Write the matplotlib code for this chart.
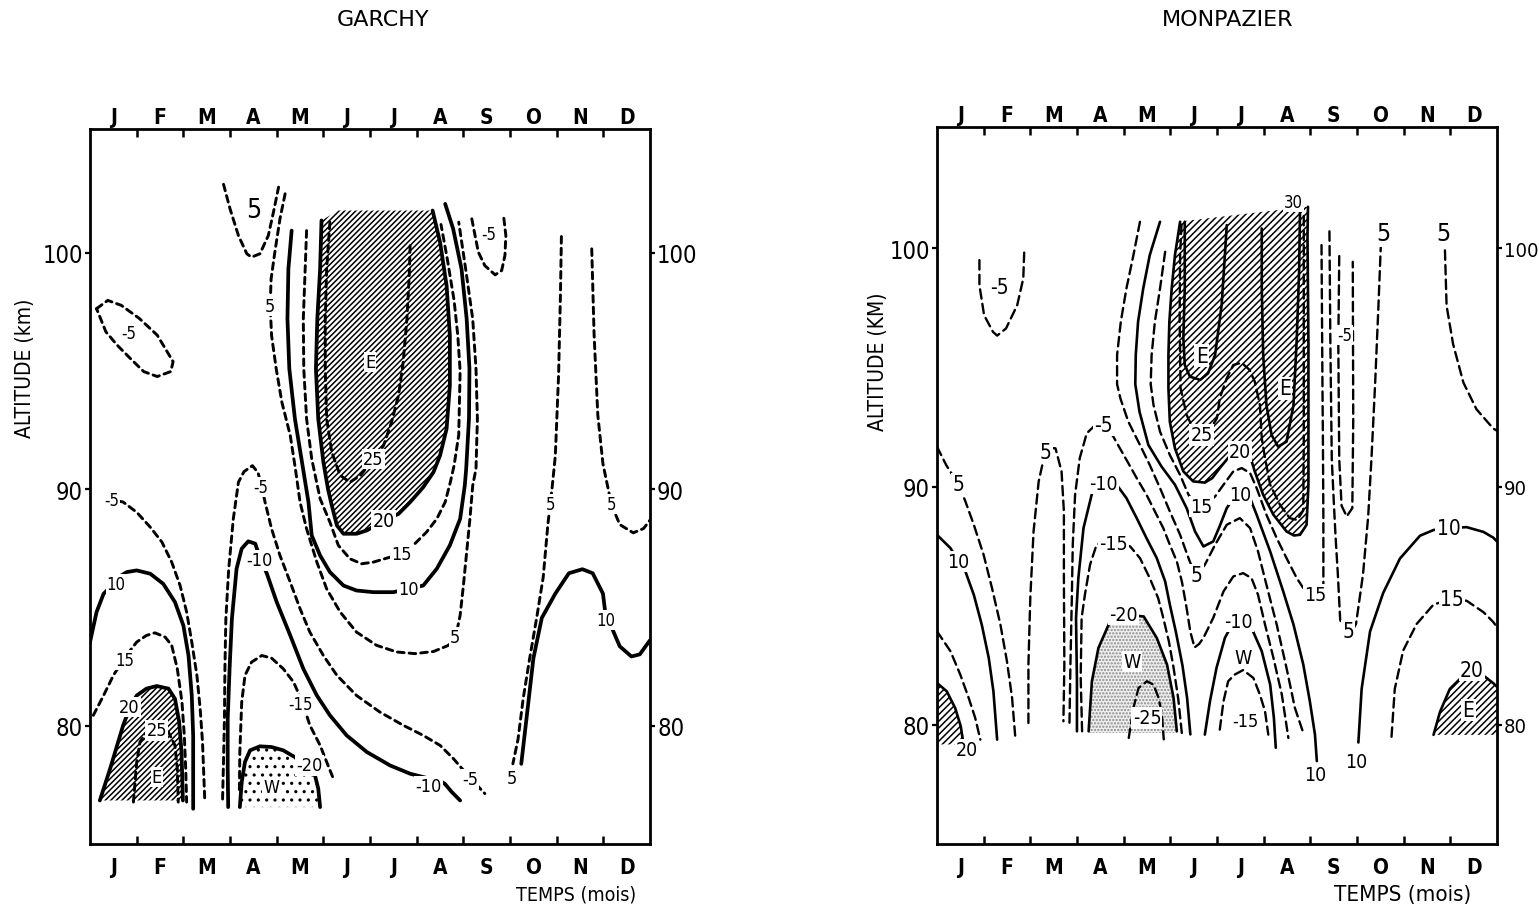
import matplotlib
matplotlib.use("Agg")
import matplotlib.pyplot as plt
import numpy as np

plt.rcParams['font.family'] = ['DejaVu Sans']
plt.rcParams['hatch.linewidth'] = 1.1

months = ['J', 'F', 'M', 'A', 'M', 'J', 'J', 'A', 'S', 'O', 'N', 'D']
alt_ticks = [80, 90, 100]

# ======================= GARCHY : isolines (month, altitude km) =======================
g_m5_oval_x = [0.14, 0.38, 0.67, 1.06, 1.44, 1.78, 1.73, 1.44, 1.15, 0.86, 0.58, 0.34, 0.14]
g_m5_oval_y = [97.64, 97.99, 97.78, 97.22, 96.52, 95.40, 94.98, 94.77, 94.98, 95.54, 96.10, 96.66, 97.64]
g_m5_left_x = [0.62, 0.71, 1.0, 1.29, 1.54, 1.75, 1.93, 2.07, 2.18, 2.29, 2.36, 2.41, 2.46]
g_m5_left_y = [89.5, 89.46, 89.03, 88.4, 87.77, 86.92, 85.93, 84.81, 83.54, 82.13, 80.72, 79.31, 76.77]
g_10_left_x = [0.0, 0.14, 0.29, 0.45, 0.62, 0.79, 1.0, 1.29, 1.57, 1.82, 2.0, 2.11, 2.18, 2.21, 2.21]
g_10_left_y = [83.54, 84.81, 85.58, 85.9, 86.3, 86.5, 86.57, 86.43, 86.0, 85.23, 84.24, 82.97, 81.28, 79.59, 76.49]
g_15_left_x = [0.07, 0.29, 0.5, 0.75, 1.0, 1.21, 1.39, 1.61, 1.75, 1.87, 1.97, 2.02, 2.05, 2.07]
g_15_left_y = [80.44, 81.28, 82.13, 82.9, 83.54, 83.82, 83.93, 83.75, 83.4, 82.41, 81.0, 79.59, 78.18, 76.77]
g_20_left_x = [0.21, 0.43, 0.71, 0.84, 1.0, 1.21, 1.43, 1.68, 1.82, 1.91, 1.96, 1.99]
g_20_left_y = [76.84, 78.18, 80.02, 80.7, 81.28, 81.57, 81.68, 81.57, 81.14, 80.16, 78.89, 76.84]
g_25_left_x = [0.93, 1.0, 1.07, 1.2, 1.43, 1.68, 1.82, 1.87, 1.89]
g_25_left_y = [76.77, 78.46, 79.31, 79.7, 79.85, 79.73, 79.17, 78.18, 76.77]
g_m5_A_x = [2.84, 2.86, 2.88, 2.89, 2.91, 2.97, 3.07, 3.18, 3.3, 3.48, 3.6, 3.68, 3.75, 3.89, 4.07, 4.29,
            4.5, 4.71, 5.0, 5.29, 5.71, 6.21, 6.71, 7.14, 7.5, 7.79, 8.14, 8.36, 8.46]
g_m5_A_y = [76.9, 78.5, 80.3, 82.4, 84.5, 86.6, 88.75, 90.3, 90.75, 91.0, 90.7, 90.1, 89.46, 88.33, 87.2,
            86.07, 84.95, 83.96, 82.97, 82.13, 81.28, 80.58, 80.02, 79.59, 79.17, 78.6, 77.8, 77.34, 77.13]
g_m10_A_x = [2.96, 2.95, 2.95, 2.99, 3.04, 3.14, 3.25, 3.39, 3.54, 3.64, 3.79, 4.0, 4.29, 4.57, 4.86, 5.14,
             5.5, 5.93, 6.43, 6.86, 7.2, 7.45, 7.6, 7.75, 7.93]
g_m10_A_y = [76.56, 78.18, 80.3, 82.41, 84.53, 86.64, 87.49, 87.8, 87.7, 87.1, 86.43, 85.23, 83.82, 82.41,
             81.28, 80.44, 79.59, 78.89, 78.32, 77.97, 77.8, 77.72, 77.55, 77.2, 76.84]
g_m15_A_x = [3.2, 3.21, 3.25, 3.32, 3.46, 3.68, 3.89, 4.14, 4.36, 4.55, 4.71, 4.93, 5.07, 5.2]
g_m15_A_y = [77.3, 78.89, 81.0, 82.13, 82.69, 82.97, 82.86, 82.41, 81.85, 81.0, 80.02, 79.17, 78.47, 77.83]
g_m20_A_x = [3.21, 3.25, 3.32, 3.43, 3.64, 3.89, 4.14, 4.32, 4.55, 4.72, 4.82, 4.89, 4.93]
g_m20_A_y = [76.56, 77.62, 78.47, 78.96, 79.13, 79.1, 78.96, 78.75, 78.5, 78.25, 77.9, 77.34, 76.56]
g_5_U_x = [2.86, 3.0, 3.18, 3.36, 3.46, 3.64, 3.82, 3.93, 4.04]
g_5_U_y = [102.9, 101.86, 100.73, 99.96, 99.82, 99.96, 100.73, 101.72, 102.78]
g_5_jet_x = [4.18, 4.07, 3.96, 3.88, 3.86, 3.89, 3.99, 4.11, 4.29, 4.4, 4.5, 4.64, 4.86, 5.07, 5.36, 5.71,
             6.14, 6.57, 6.96, 7.36, 7.68, 7.85, 7.93, 8.0, 8.07, 8.14, 8.2, 8.27, 8.3, 8.27, 8.2, 8.05, 7.9]
g_5_jet_y = [102.5, 101.44, 100.03, 98.9, 97.77, 96.5, 95.09, 93.69, 92.28, 90.87, 89.46, 88.33, 86.92,
             85.79, 84.81, 83.96, 83.4, 83.12, 83.05, 83.14, 83.4, 83.9, 84.67, 85.93, 87.34, 88.75, 90.16,
             90.87, 92.98, 95.1, 97.2, 99.3, 101.3]
g_10_jet_x = [4.32, 4.25, 4.23, 4.27, 4.39, 4.53, 4.68, 4.75, 4.93, 5.14, 5.43, 5.71, 6.07, 6.5, 6.82, 7.14,
              7.43, 7.71, 7.93, 8.03, 8.06, 8.12, 8.13, 8.07, 7.96, 7.78, 7.61]
g_10_jet_y = [100.94, 99.32, 97.21, 95.1, 92.98, 91.29, 89.46, 88.05, 87.2, 86.5, 85.93, 85.72, 85.65, 85.65,
              85.79, 85.93, 86.64, 87.63, 88.75, 90.16, 90.87, 93.0, 95.1, 97.21, 99.32, 101.02, 102.07]
g_15_jet_x = [4.64, 4.61, 4.57, 4.58, 4.64, 4.75, 4.93, 5.14, 5.32, 5.57, 5.82, 6.07, 6.36, 6.68, 6.96, 7.21,
              7.43, 7.61, 7.72, 7.8, 7.9, 7.93, 7.88, 7.8, 7.65, 7.52]
g_15_jet_y = [100.94, 99.32, 97.21, 95.1, 92.98, 91.29, 89.6, 88.61, 87.63, 87.06, 86.85, 86.92, 87.09, 87.27,
              87.7, 88.19, 88.75, 89.46, 90.3, 91.0, 92.3, 95.0, 96.5, 98.0, 99.8, 101.2]
g_20_jet_x = [4.96, 4.93, 4.87, 4.84, 4.89, 5.0, 5.1, 5.18, 5.29, 5.43, 5.71, 5.93, 6.29, 6.61, 6.86, 7.14,
              7.36, 7.5, 7.64, 7.71, 7.71, 7.64, 7.5, 7.34]
g_20_jet_y = [101.37, 99.32, 97.21, 95.1, 92.98, 91.15, 90.0, 89.32, 88.47, 88.12, 88.12, 88.26, 88.68, 88.96,
              89.46, 90.09, 90.73, 91.43, 92.56, 94.39, 96.5, 98.62, 100.45, 101.79]
g_jet_top_x = [7.34, 5.32]
g_jet_top_y = [101.79, 101.79]
g_25_jet_x = [5.14, 5.07, 5.04, 5.04, 5.07, 5.18, 5.36, 5.57, 5.8, 6.07, 6.29, 6.46, 6.61, 6.71, 6.79, 6.84, 6.86]
g_25_jet_y = [101.3, 99.32, 97.21, 95.1, 92.98, 91.57, 90.59, 90.3, 90.6, 91.29, 91.85, 92.84, 93.97, 95.38,
              97.21, 99.04, 100.45]
g_m5_Ur_x = [8.18, 8.25, 8.32, 8.46, 8.68, 8.82, 8.89, 8.91, 8.86]
g_m5_Ur_y = [101.44, 100.73, 100.03, 99.46, 99.07, 99.25, 99.89, 100.73, 101.58]
g_5_O_x = [10.1, 10.08, 10.04, 9.97, 9.9, 9.86, 9.81, 9.71, 9.57, 9.42, 9.28, 9.17, 9.06]
g_5_O_y = [100.69, 98.28, 94.85, 91.42, 90.05, 89.37, 88.51, 86.28, 84.56, 82.85, 81.13, 79.42, 78.39]
g_5_ND_x = [10.75, 10.8, 10.88, 10.99, 11.17, 11.35, 11.64, 11.86, 12.0]
g_5_ND_y = [100.17, 96.57, 93.14, 91.08, 89.37, 88.51, 88.16, 88.34, 88.7]
g_10_OND_x = [9.24, 9.35, 9.5, 9.68, 9.97, 10.26, 10.55, 10.77, 10.99, 11.06, 11.2, 11.35, 11.6, 11.78, 12.0]
g_10_OND_y = [78.39, 80.27, 82.85, 84.56, 85.59, 86.45, 86.62, 86.45, 85.59, 84.48, 84.05, 83.36, 82.93, 83.02, 83.62]

g_labels = [  # (x, y, text, size)
    (0.82, 96.6, '-5', 12), (3.5, 101.8, '5', 19), (3.86, 97.77, '5', 13), (8.54, 100.8, '-5', 12),
    (6.0, 95.4, 'E', 13), (6.07, 91.29, '25', 13), (6.29, 88.68, '20', 14), (6.68, 87.27, '15', 13),
    (6.82, 85.79, '10', 13), (7.82, 83.75, '5', 13), (0.46, 89.53, '-5', 12), (0.56, 86.0, '10', 12),
    (0.75, 82.76, '15', 12), (0.84, 80.79, '20', 13), (1.43, 79.8, '25', 13), (1.43, 77.83, 'E', 13),
    (3.65, 90.1, '-5', 12), (3.64, 86.99, '-10', 13), (4.5, 80.9, '-15', 12), (4.7, 78.32, '-20', 13),
    (3.89, 77.41, 'W', 13), (7.25, 77.45, '-10', 13), (8.14, 77.76, '-5', 13), (9.03, 77.79, '5', 13),
    (9.86, 89.37, '5', 12), (11.17, 89.37, '5', 12), (11.06, 84.48, '10', 12),
]

# ======================= MONPAZIER : isolines (month, altitude km) =======================
m_m5_U_x = [0.91, 0.91, 1.01, 1.2, 1.29, 1.48, 1.72, 1.85, 1.87]
m_m5_U_y = [99.51, 98.46, 97.2, 96.5, 96.34, 96.64, 97.62, 98.74, 99.86]
m_5_J_x = [0.0, 0.2, 0.46, 0.61, 0.79, 1.0, 1.18, 1.36, 1.5, 1.61, 1.68]
m_5_J_y = [91.68, 90.9, 90.1, 89.38, 88.4, 87.14, 85.74, 84.21, 82.67, 81.13, 79.45]
m_10_J_x = [0.0, 0.29, 0.46, 0.61, 0.79, 0.96, 1.11, 1.21, 1.29]
m_10_J_y = [87.98, 87.42, 86.86, 86.44, 85.46, 84.21, 82.81, 81.41, 79.38]
m_15_J_x = [0.0, 0.29, 0.5, 0.68, 0.82, 0.93]
m_15_J_y = [83.93, 83.09, 82.11, 81.13, 80.29, 79.38]
m_20_J_x = [0.0, 0.21, 0.39, 0.51, 0.57]
m_20_J_y = [81.76, 81.41, 80.71, 79.94, 79.18]
m_5_FM_x = [1.96, 1.96, 2.0, 2.07, 2.18, 2.29, 2.4, 2.54, 2.67, 2.72, 2.72, 2.73, 2.71]
m_5_FM_y = [80.08, 82.53, 85.32, 88.12, 90.22, 91.2, 91.62, 91.61, 90.64, 88.96, 86.16, 82.53, 80.15]
m_m5_A_x = [2.84, 2.86, 2.89, 2.91, 2.96, 3.06, 3.21, 3.4, 3.56, 3.78, 3.92, 4.1, 4.28, 4.49, 4.67, 4.85,
            4.99, 5.14, 5.25, 5.35, 5.43, 5.52, 5.62, 5.71, 5.92, 6.14, 6.35, 6.56, 6.74, 6.88, 7.03, 7.21,
            7.39, 7.53]
m_m5_A_y = [80.09, 82.53, 85.32, 87.56, 89.66, 91.2, 92.24, 92.6, 92.65, 92.1, 91.61, 90.99, 90.36, 89.66,
            88.96, 88.26, 87.56, 86.86, 86.0, 84.9, 83.9, 83.25, 83.4, 83.65, 84.49, 85.6, 86.23, 86.37, 86.16,
            85.46, 84.21, 82.81, 81.27, 79.45]
m_m10_A_x = [3.0, 3.0, 2.98, 3.03, 3.14, 3.35, 3.56, 3.85, 4.06, 4.28, 4.49, 4.71, 4.89, 4.99, 5.12, 5.26,
             5.36, 5.43]
m_m10_A_y = [79.73, 81.83, 84.49, 86.16, 88.26, 89.94, 90.2, 90.08, 89.52, 88.68, 87.84, 87.0, 86.02, 85.05,
             83.9, 82.5, 81.13, 79.6]
m_m15_A_x = [3.11, 3.08, 3.1, 3.17, 3.28, 3.42, 3.6, 3.78, 3.95, 4.14, 4.35, 4.56, 4.74, 4.85, 4.97, 5.07,
             5.17, 5.25]
m_m15_A_y = [79.73, 82.0, 84.49, 85.46, 86.72, 87.56, 87.7, 87.65, 87.6, 87.49, 87.0, 86.16, 85.32, 84.49,
             83.5, 82.4, 81.1, 79.6]
m_m20_A_x = [3.25, 3.32, 3.46, 3.71, 4.0, 4.43, 4.71, 4.93, 5.07, 5.14]
m_m20_A_y = [79.73, 81.83, 83.23, 84.35, 84.63, 84.55, 83.65, 82.53, 81.13, 79.73]
m_m25_A_x = [4.11, 4.21, 4.32, 4.5, 4.64, 4.75, 4.82, 4.86]
m_m25_A_y = [79.45, 80.71, 81.55, 81.83, 81.69, 81.13, 80.43, 79.39]
m_5_jet_x = [4.35, 4.21, 4.06, 3.94, 3.86, 3.86, 3.93, 4.1, 4.35, 4.56, 4.78, 4.99, 5.21, 5.39, 5.5, 5.56,
             5.74, 5.96, 6.21, 6.49, 6.71, 6.88, 7.06, 7.28, 7.49, 7.67, 7.85]
m_5_jet_y = [101.12, 99.72, 98.32, 96.93, 95.53, 94.3, 93.71, 92.73, 91.75, 90.91, 89.94, 88.96, 87.98,
             87.0, 86.45, 86.3, 86.72, 87.56, 88.4, 88.68, 88.26, 87.28, 85.88, 84.21, 82.39, 80.71, 79.66]
m_10_jet_x = [4.78, 4.56, 4.42, 4.31, 4.26, 4.25, 4.34, 4.53, 4.81, 5.1, 5.35, 5.53, 5.71, 5.92, 6.05, 6.21,
              6.35, 6.49, 6.71, 6.85, 7.14, 7.42, 7.64, 7.85, 7.99, 8.1, 8.14]
m_10_jet_y = [101.12, 99.72, 98.32, 96.93, 95.53, 94.3, 93.15, 91.75, 90.85, 90.08, 89.1, 88.12, 87.49,
              87.7, 88.3, 89.1, 89.5, 89.66, 89.52, 88.82, 87.28, 85.6, 84.21, 82.53, 80.99, 79.59, 78.48]
m_15_jet_x = [4.89, 4.78, 4.67, 4.6, 4.58, 4.64, 4.78, 4.99, 5.21, 5.39, 5.55, 5.67, 5.8, 5.96, 6.14, 6.35,
              6.53, 6.71, 6.85, 7.06, 7.28, 7.49, 7.71, 7.85, 8.1, 8.28, 8.28, 8.27, 8.26, 8.24]
m_15_jet_y = [99.86, 98.32, 96.93, 95.53, 94.3, 93.43, 92.31, 91.33, 90.49, 89.66, 89.25, 89.17, 89.3,
              89.59, 90.08, 90.64, 90.78, 90.57, 89.94, 88.82, 87.84, 87.0, 86.16, 85.74, 85.46, 85.88, 88.68,
              92.0, 94.37, 100.16]
m_20_jet_x = [5.21, 5.1, 5.03, 4.98, 4.96, 4.96, 4.99, 5.1, 5.28, 5.49, 5.74, 5.9, 6.06, 6.35, 6.5, 6.67,
              6.81, 6.99, 7.21, 7.49, 7.65, 7.78, 7.92, 7.96, 7.96, 7.94, 7.95]
m_20_jet_y = [101.12, 99.72, 98.32, 96.93, 95.53, 94.13, 92.73, 91.61, 90.64, 90.22, 90.17, 90.36, 90.78,
              91.47, 91.6, 91.54, 90.64, 89.66, 88.82, 88.12, 87.95, 87.98, 88.4, 90.08, 95.98, 100.5, 101.75]
m_jet_top_x = [7.95, 7.6, 5.3]
m_jet_top_y = [101.75, 101.68, 101.15]
m_25_jet_x = [5.24, 5.21, 5.2, 5.22, 5.35, 5.5, 5.67, 5.85, 6.0, 6.06, 6.21, 6.35, 6.53, 6.7, 6.81, 6.92,
              6.96, 7.03, 7.14, 7.35, 7.56, 7.72, 7.85, 7.86, 7.86, 7.86]
m_25_jet_y = [101.0, 99.72, 96.93, 94.13, 93.01, 92.4, 92.17, 92.4, 92.87, 93.71, 94.55, 95.11, 95.2, 94.9,
              94.41, 93.43, 92.03, 91.2, 90.08, 89.24, 88.68, 88.6, 89.0, 92.0, 98.0, 101.5]
m_30_Ua_x = [5.31, 5.31, 5.28, 5.31, 5.42, 5.64, 5.81, 5.96, 6.1, 6.17, 6.21]
m_30_Ua_y = [101.12, 98.32, 96.23, 95.11, 94.62, 94.48, 94.76, 95.53, 97.62, 99.72, 100.98]
m_30_Ub_x = [6.96, 6.96, 6.99, 7.06, 7.17, 7.31, 7.49, 7.64, 7.71, 7.76, 7.78, 7.8]
m_30_Ub_y = [100.84, 98.32, 95.53, 93.43, 92.17, 91.68, 91.89, 93.43, 96.23, 99.02, 101.68, 102.1]
m_m10_J_x = [5.74, 5.85, 5.99, 6.17, 6.32, 6.46, 6.6, 6.74, 6.96, 7.14, 7.22, 7.26]
m_m10_J_y = [79.59, 80.99, 82.39, 83.65, 84.2, 84.35, 84.3, 84.07, 83.09, 81.69, 80.29, 79.04]
m_m15_J_x = [6.06, 6.14, 6.24, 6.38, 6.56, 6.78, 6.92, 7.03, 7.1]
m_m15_J_y = [79.8, 80.99, 81.83, 82.11, 82.3, 81.97, 81.27, 80.57, 79.59]
m_m5_S_x = [8.62, 8.6, 8.62, 8.67, 8.78, 8.9, 8.92, 8.91]
m_m5_S_y = [99.68, 95.98, 91.16, 89.2, 88.75, 89.1, 92.77, 99.44]
m_5_S_x = [8.41, 8.43, 8.46, 8.5, 8.54, 8.59, 8.64, 8.72, 8.81, 8.9, 8.98, 9.13, 9.24, 9.31, 9.39, 9.46, 9.51]
m_5_S_y = [100.72, 95.98, 91.16, 89.5, 87.94, 86.33, 84.41, 83.95, 83.9, 83.95, 84.24, 86.33, 88.75, 91.16,
           94.37, 97.59, 100.08]
m_5_ND_x = [10.885, 10.92, 11.06, 11.28, 11.56, 11.92, 12.0]
m_5_ND_y = [99.92, 97.59, 95.98, 94.37, 93.25, 92.44, 92.35]
m_10_OND_x = [9.03, 9.1, 9.28, 9.56, 9.92, 10.35, 10.64, 10.96, 11.35, 11.71, 11.92, 12.0]
m_10_OND_y = [79.26, 81.51, 83.92, 85.53, 86.98, 87.94, 88.18, 88.26, 88.3, 88.1, 87.86, 87.7]
m_15_ND_x = [9.74, 9.81, 9.99, 10.28, 10.64, 11.03, 11.35, 11.71, 11.92, 12.0]
m_15_ND_y = [79.5, 81.51, 83.12, 84.24, 85.05, 85.29, 85.21, 84.73, 84.32, 84.1]
m_20_D_x = [10.64, 10.78, 10.99, 11.28, 11.46, 11.71, 11.92, 12.0]
m_20_D_y = [79.58, 80.55, 81.51, 82.07, 82.3, 82.07, 81.75, 81.6]

m_labels = [
    (1.34, 98.39, '-5', 15), (0.46, 90.1, '5', 15), (0.46, 86.86, '10', 14), (0.64, 78.96, '20', 14),
    (2.33, 91.45, '5', 15), (3.56, 92.59, '-5', 15), (3.56, 90.15, '-10', 14), (3.78, 87.63, '-15', 14),
    (4.0, 84.63, '-20', 14), (4.18, 82.67, 'W', 14), (4.5, 80.29, '-25', 14), (5.67, 92.17, '25', 14),
    (5.67, 95.5, 'E', 15), (7.46, 94.13, 'E', 15), (7.63, 101.96, '30', 12), (6.49, 91.47, '20', 14),
    (5.67, 89.17, '15', 14), (6.49, 89.66, '10', 14), (5.56, 86.3, '5', 15), (6.46, 84.35, '-10', 14),
    (6.56, 82.81, 'W', 14), (6.6, 80.15, '-15', 13), (8.1, 85.46, '15', 14), (8.1, 77.92, '10', 14),
    (8.81, 83.92, '5', 15), (8.73, 96.38, '-5', 12), (9.56, 100.64, '5', 18), (10.85, 100.64, '5', 18),
    (10.96, 88.26, '10', 15), (11.03, 85.29, '15', 15), (11.46, 82.32, '20', 15), (11.39, 80.63, 'E', 15),
    (8.99, 78.46, '10', 14),
]

SOLID, DASH = 'solid', 'dash'
g_lines = [
    (g_m5_oval_x, g_m5_oval_y, DASH), (g_m5_left_x, g_m5_left_y, DASH), (g_10_left_x, g_10_left_y, SOLID),
    (g_15_left_x, g_15_left_y, DASH), (g_20_left_x, g_20_left_y, SOLID), (g_25_left_x, g_25_left_y, DASH),
    (g_m5_A_x, g_m5_A_y, DASH), (g_m10_A_x, g_m10_A_y, SOLID), (g_m15_A_x, g_m15_A_y, DASH),
    (g_m20_A_x, g_m20_A_y, SOLID), (g_5_U_x, g_5_U_y, DASH), (g_5_jet_x, g_5_jet_y, DASH),
    (g_10_jet_x, g_10_jet_y, SOLID), (g_15_jet_x, g_15_jet_y, DASH), (g_20_jet_x, g_20_jet_y, SOLID),
    (g_25_jet_x, g_25_jet_y, DASH), (g_m5_Ur_x, g_m5_Ur_y, DASH), (g_5_O_x, g_5_O_y, DASH),
    (g_5_ND_x, g_5_ND_y, DASH), (g_10_OND_x, g_10_OND_y, SOLID),
]
m_lines = [
    (m_m5_U_x, m_m5_U_y, DASH), (m_5_J_x, m_5_J_y, DASH), (m_10_J_x, m_10_J_y, SOLID),
    (m_15_J_x, m_15_J_y, DASH), (m_20_J_x, m_20_J_y, SOLID), (m_5_FM_x, m_5_FM_y, DASH),
    (m_m5_A_x, m_m5_A_y, DASH), (m_m10_A_x, m_m10_A_y, SOLID), (m_m15_A_x, m_m15_A_y, DASH),
    (m_m20_A_x, m_m20_A_y, SOLID), (m_m25_A_x, m_m25_A_y, DASH), (m_5_jet_x, m_5_jet_y, DASH),
    (m_10_jet_x, m_10_jet_y, SOLID), (m_15_jet_x, m_15_jet_y, DASH), (m_20_jet_x, m_20_jet_y, SOLID),
    (m_25_jet_x, m_25_jet_y, DASH), (m_30_Ua_x, m_30_Ua_y, SOLID), (m_30_Ub_x, m_30_Ub_y, SOLID),
    (m_m10_J_x, m_m10_J_y, SOLID), (m_m15_J_x, m_m15_J_y, DASH), (m_m5_S_x, m_m5_S_y, DASH),
    (m_5_S_x, m_5_S_y, DASH), (m_5_ND_x, m_5_ND_y, DASH), (m_10_OND_x, m_10_OND_y, SOLID),
    (m_15_ND_x, m_15_ND_y, DASH), (m_20_D_x, m_20_D_y, SOLID),
]

COND = dict(family='DejaVu Sans', stretch='condensed')

fig = plt.figure(figsize=(15.39, 9.12), dpi=100)
axL = fig.add_axes([0.0585, 0.0735, 0.3639, 0.784])
axR = fig.add_axes([0.6088, 0.0735, 0.3639, 0.7862])


def region(ax, xs, ys, hatch, fc='white', ec='black', close_y=None):
    x = list(xs)
    y = list(ys)
    if close_y is not None:
        x = x + [x[-1], x[0]]
        y = y + [close_y, close_y]
    ax.fill(x, y, facecolor=fc, edgecolor=ec, hatch=hatch, linewidth=0, zorder=1)


# hatched (E) / stippled (W) regions
region(axL, g_20_left_x, g_20_left_y, '//////', close_y=76.84)
region(axL, g_20_jet_x + g_jet_top_x, g_20_jet_y + g_jet_top_y, '//////')
region(axL, g_m20_A_x, g_m20_A_y, '..', close_y=76.56)
region(axR, m_20_J_x + [0.0], m_20_J_y + [79.18], '/////')
region(axR, m_20_jet_x + m_jet_top_x, m_20_jet_y + m_jet_top_y, '/////')
region(axR, m_20_D_x + [12.0, 10.64], m_20_D_y + [79.58, 79.58], '/////')
region(axR, m_m20_A_x, m_m20_A_y, '.....', fc='#f0f0f0', ec='#8a8a8a', close_y=79.66)

for ax, lines, lw_s, lw_d, dash in [(axL, g_lines, 2.7, 2.1, (2.3, 1.7)),
                                    (axR, m_lines, 1.9, 1.7, (4.0, 2.2))]:
    for xs, ys, kind in lines:
        if kind == SOLID:
            ax.plot(xs, ys, color='black', lw=lw_s, solid_capstyle='round', zorder=3)
        else:
            ax.plot(xs, ys, color='black', lw=lw_d, linestyle=(0, dash), dash_capstyle='round', zorder=3)

for ax, labels in [(axL, g_labels), (axR, m_labels)]:
    for x, y, s, size in labels:
        ax.text(x, y, s, ha='center', va='center', fontsize=size, zorder=6, **COND,
                bbox=dict(boxstyle='square,pad=0.06', fc='white', ec='none'))

for ax, top, rsize in [(axL, 105.24, 17), (axR, 105.1, 14.5)]:
    ax.set_xlim(0, 12)
    ax.set_ylim(75, top)
    for sp in ax.spines.values():
        sp.set_linewidth(2.0)
    ax.set_xticks(range(1, 12))
    ax.set_xticklabels([])
    ax.tick_params(axis='x', direction='in', length=6, width=1.8, top=True, bottom=True)
    ax.set_yticks(alt_ticks)
    ax.set_yticklabels([str(v) for v in alt_ticks], **COND)
    ax.tick_params(axis='y', direction='out', length=3.5, width=1.6, left=True, right=True,
                   labelleft=True, labelright=True, pad=1.5)
    for t in ax.yaxis.get_major_ticks():
        t.label1.set_fontsize(17)
        t.label2.set_fontsize(rsize)
    tr = ax.get_xaxis_transform()
    for i, m in enumerate(months):
        ax.text(i + 0.5, 1.017, m, transform=tr, ha='center', va='center', fontsize=15,
                fontweight='bold', **COND)
        ax.text(i + 0.5, -0.032, m, transform=tr, ha='center', va='center', fontsize=15,
                fontweight='bold', **COND)

fig.text(25 / 1539, 1 - 368 / 912, 'ALTITUDE (km)', rotation=90, ha='center', va='center', fontsize=15, **COND)
fig.text(878 / 1539, 1 - 362 / 912, 'ALTITUDE (KM)', rotation=90, ha='center', va='center', fontsize=15, **COND)
fig.text(636 / 1539, 1 - 895 / 912, 'TEMPS (mois)', ha='right', va='center', fontsize=14, **COND)
fig.text(1471 / 1539, 1 - 895 / 912, 'TEMPS (mois)', ha='right', va='center', fontsize=16, **COND)
fig.text(383 / 1539, 1 - 20 / 912, 'GARCHY', ha='center', va='center', fontsize=16)
fig.text(1228 / 1539, 1 - 20 / 912, 'MONPAZIER', ha='center', va='center', fontsize=16)

fig.savefig('out.png', dpi=100, facecolor='white')
